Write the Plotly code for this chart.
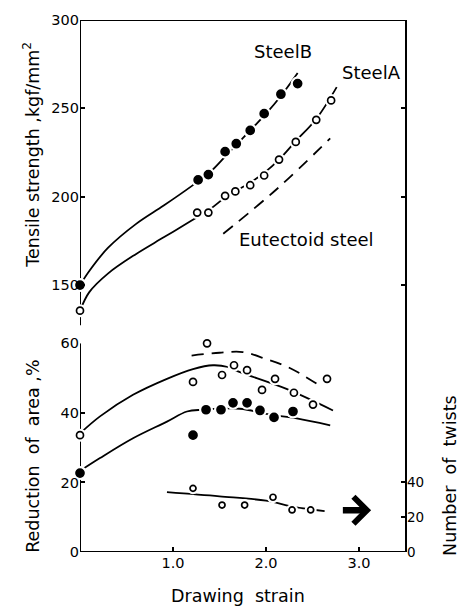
import plotly.graph_objects as go

# ---- Tensile strength (kgf/mm^2) versus drawing strain ----
steel_b_strain = [0, 1.27, 1.38, 1.56, 1.68, 1.83, 1.98, 2.16, 2.34]
steel_b_ts = [150, 209.5, 212.5, 225.5, 230, 237.5, 247, 258, 264]
steel_a_strain = [0, 1.26, 1.38, 1.56, 1.67, 1.83, 1.98, 2.14, 2.32, 2.54, 2.70]
steel_a_ts = [135.5, 191, 191, 200.5, 203, 206.5, 212, 221, 231, 243.5, 254.5]

# fitted curves
steel_b_ts_fit_x = [0, 0.1, 0.3, 0.6, 0.9, 1.2, 1.4, 1.6, 1.83, 2.0, 2.16, 2.34]
steel_b_ts_fit_y = [150, 158, 171, 184.5, 195, 206, 214, 225, 237.5, 247, 257, 270]
steel_a_ts_fit_x = [0, 0.1, 0.3, 0.6, 0.9, 1.2, 1.4, 1.56, 1.83, 1.98, 2.14, 2.32, 2.54, 2.76]
steel_a_ts_fit_y = [135.5, 146, 156.5, 167.5, 177, 186.5, 193, 199.5, 208, 213.5, 221, 231.5, 244, 262]
eutectoid_ts_x = [1.54, 2.12, 2.69]
eutectoid_ts_y = [179, 204.5, 233]

# ---- Reduction of area (%) versus drawing strain ----
steel_a_ra_strain = [0, 1.215, 1.366, 1.527, 1.656, 1.796, 1.957, 2.097, 2.30, 2.505, 2.656]
steel_a_ra = [33.6, 48.9, 60.0, 50.9, 53.7, 52.3, 46.6, 49.8, 45.8, 42.4, 49.8]
steel_b_ra_strain = [0, 1.215, 1.355, 1.516, 1.645, 1.796, 1.935, 2.086, 2.29]
steel_b_ra = [22.7, 33.6, 40.9, 40.9, 42.9, 42.9, 40.7, 38.7, 40.4]

steel_a_ra_fit_x = [0, 0.215, 0.57, 0.935, 1.215, 1.43, 1.59, 1.72, 2.22, 2.72]
steel_a_ra_fit_y = [34.1, 39.0, 45.2, 49.8, 52.6, 53.7, 53.2, 51.7, 46.9, 40.7]
steel_b_ra_fit_x = [0, 0.215, 0.57, 0.935, 1.15, 1.32, 1.72, 2.04, 2.33, 2.69]
steel_b_ra_fit_y = [23.3, 27.0, 32.7, 37.5, 40.4, 40.9, 41.2, 39.5, 38.4, 36.4]
eutectoid_ra_x = [1.20, 1.5, 1.75, 2.0, 2.25, 2.55]
eutectoid_ra_y = [56.5, 57.3, 57.5, 55.5, 53.0, 48.3]

# ---- Number of twists ----
twist_strain = [1.215, 1.527, 1.77, 2.075, 2.28, 2.48]
twists = [36.6, 27.0, 27.0, 31.5, 24.2, 24.2]
twist_fit_x = [0.935, 1.5, 2.0, 2.3, 2.63]
twist_fit_y = [34.4, 32.0, 29.5, 26.0, 23.5]

# axis settings
x_range = [0, 3.505]
ts_range = [127.1, 300]
ra_range = [0, 60]
tw_range = [0, 120]
x_ticks = [1, 2, 3]
x_ticktext = ["1.0", "2.0", "3.0"]
ts_ticks = [150, 200, 250, 300]
ra_ticks = [0, 20, 40, 60]
tw_ticks = [0, 20, 40]

FONT = "DejaVu Sans"
INK = "black"
LW = 1.8

fig = go.Figure()


def curve(x, y, axis, dash="solid"):
    fig.add_trace(go.Scatter(x=x, y=y, yaxis=axis, mode="lines",
                             line=dict(color=INK, width=LW, dash=dash, shape="spline", smoothing=1.0),
                             showlegend=False, hoverinfo="skip"))


def points(x, y, axis, filled, size):
    # white ring behind each symbol so the lines break around it
    fig.add_trace(go.Scatter(x=x, y=y, yaxis=axis, mode="markers",
                             marker=dict(color="white", size=size + 6, line=dict(width=0)),
                             showlegend=False, hoverinfo="skip", cliponaxis=False))
    fig.add_trace(go.Scatter(x=x, y=y, yaxis=axis, mode="markers",
                             marker=dict(color=INK if filled else "white", size=size,
                                         line=dict(color=INK, width=1.7)),
                             showlegend=False, hoverinfo="skip", cliponaxis=False))


# fitted lines
curve(steel_b_ts_fit_x, steel_b_ts_fit_y, "y2")
curve(steel_a_ts_fit_x, steel_a_ts_fit_y, "y2")
curve(eutectoid_ts_x, eutectoid_ts_y, "y2", dash="12px,8px")
curve(steel_a_ra_fit_x, steel_a_ra_fit_y, "y")
curve(steel_b_ra_fit_x, steel_b_ra_fit_y, "y")
curve(eutectoid_ra_x, eutectoid_ra_y, "y", dash="12px,8px")
curve(twist_fit_x, twist_fit_y, "y3")

# measured points
points(steel_b_strain, steel_b_ts, "y2", True, 8)
points(steel_a_strain, steel_a_ts, "y2", False, 7)
points(steel_a_ra_strain, steel_a_ra, "y", False, 7)
points(steel_b_ra_strain, steel_b_ra, "y", True, 8)
points(twist_strain, twists, "y3", False, 6)

# keeps the right-hand tick axis of the upper panel alive
fig.add_trace(go.Scatter(x=[0], y=[200], yaxis="y4", mode="markers",
                         marker=dict(opacity=0), showlegend=False, hoverinfo="skip"))

tick_font = dict(family=FONT, size=14.5, color=INK)
common = dict(ticks="inside", ticklen=5, tickwidth=1.6, tickcolor=INK,
              showgrid=False, zeroline=False, showline=False, tickfont=tick_font)

fig.update_layout(
    width=460, height=607,
    margin=dict(l=80, r=54, t=14, b=55),
    paper_bgcolor="white", plot_bgcolor="white",
    xaxis=dict(range=x_range, tickvals=x_ticks, ticktext=x_ticktext, anchor="y", **common),
    yaxis=dict(domain=[0, 0.3922], range=ra_range, tickvals=ra_ticks, anchor="x", **common),
    yaxis2=dict(domain=[0.4257, 1], range=ts_range, tickvals=ts_ticks, anchor="x", **common),
    yaxis3=dict(range=tw_range, tickvals=tw_ticks, overlaying="y", side="right", anchor="x",
                **{**common, "tickfont": dict(family=FONT, size=13.5, color=INK)}),
    yaxis4=dict(range=ts_range, tickvals=[150, 200, 250], overlaying="y2", side="right",
                anchor="x", showticklabels=False,
                **{k: v for k, v in common.items() if k != "tickfont"}),
)

# frame lines
axis_line = dict(color=INK, width=2)
fig.add_shape(type="line", xref="x", yref="y2", x0=0, x1=0, y0=ts_range[0], y1=ts_range[1],
              line=axis_line, layer="below")
fig.add_shape(type="line", xref="paper", yref="y2", x0=0, x1=1, y0=ts_range[1], y1=ts_range[1],
              line=axis_line, layer="below")
fig.add_shape(type="line", xref="paper", yref="paper", x0=1, x1=1, y0=0, y1=1,
              line=axis_line, layer="below")
fig.add_shape(type="line", xref="x", yref="y", x0=0, x1=0, y0=ra_range[0], y1=ra_range[1],
              line=axis_line, layer="below")
fig.add_shape(type="line", xref="paper", yref="y", x0=0, x1=1, y0=0, y1=0,
              line=axis_line, layer="below")

label_font = dict(family=FONT, size=18, color=INK)
title_font = dict(family=FONT, size=17.5, color=INK)
centered = dict(showarrow=False, xanchor="center", yanchor="middle")

# curve labels
fig.add_annotation(x=2.18, y=282, xref="x", yref="y2", text="SteelB", font=label_font, **centered)
fig.add_annotation(x=3.134, y=270.5, xref="x", yref="y2", text="SteelA", font=label_font, **centered)
fig.add_annotation(x=2.43, y=176, xref="x", yref="y2", text="Eutectoid steel", font=label_font, **centered)

# axis titles
fig.add_annotation(x=-0.150, y=0.747, xref="paper", yref="paper", textangle=-90,
                   text="Tensile strength ,kgf/mm<sup>2</sup>", font=title_font, **centered)
fig.add_annotation(x=-0.144, y=0.179, xref="paper", yref="paper", textangle=-90,
                   text="Reduction  of  area ,%", font=title_font, **centered)
fig.add_annotation(x=1.135, y=0.143, xref="paper", yref="paper", textangle=-90,
                   text="Number  of  twists", font=title_font, **centered)
fig.add_annotation(x=0.485, y=-0.0836, xref="paper", yref="paper",
                   text="Drawing  strain", font=title_font, **centered)

# arrow pointing to the twist scale
fig.add_annotation(x=3.13, y=24, xref="x", yref="y3", ax=2.81, ay=24, axref="x", ayref="y3",
                   text="", showarrow=True, arrowhead=4, arrowwidth=6.5, arrowsize=0.8,
                   arrowcolor=INK)

fig.write_html("out.html")
